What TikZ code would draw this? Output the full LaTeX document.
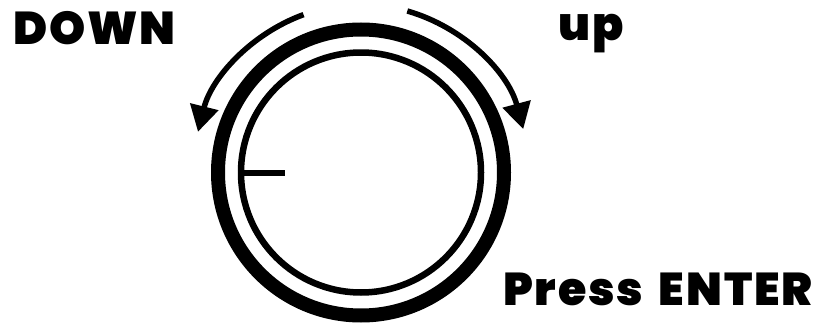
\documentclass[tikz,border=0pt]{standalone}
\usepackage{fontspec}
\newfontfamily\knobfont{Poppins Black}[LetterSpace=4, WordSpace=1.6]
\usetikzlibrary{arrows.meta}

\begin{document}
\begin{tikzpicture}[
  x=1pt, y=1pt,
  word/.style={font=\knobfont\fontsize{46}{46}\selectfont, inner sep=0pt},
  ring/.style={circle, draw, inner sep=0pt},
  turn/.style={-{Triangle[length=26pt, width=28pt]}, line width=5.5pt}
]
\useasboundingbox (0,0) rectangle (831,325);
\coordinate (c) at (361,152.5);

% knob
\node[ring, line width=14pt, minimum size=286pt] (outer) at (c) {};
\node[ring, line width=6.5pt, minimum size=240pt] (inner) at (c) {};
\draw[line width=6pt] (inner.west) -- ++(47,0);

% turning arrows
\draw[turn] ([shift={(110:168)}]c) arc[start angle=110, end angle=166, radius=168];
\draw[turn] ([shift={(74:168)}]c) arc[start angle=74, end angle=15, radius=168];

\node[word, anchor=base west] (down) at (13,281) {DOWN};
\node[word, anchor=base west] (up) at (558,285) {up};
\node[word, anchor=base west] (enter) at (503,20) {Press ENTER};
\end{tikzpicture}
\end{document}
